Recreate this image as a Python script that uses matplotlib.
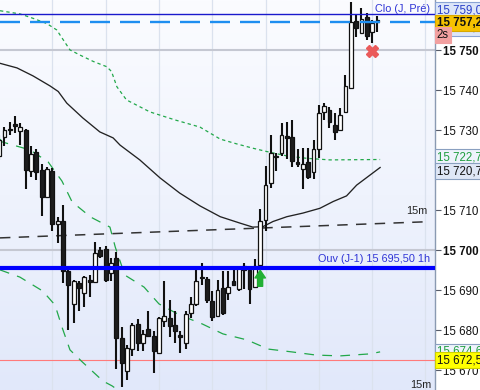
import numpy as np
import matplotlib
matplotlib.use("Agg")
import matplotlib.pyplot as plt
from matplotlib.colors import LinearSegmentedColormap
from matplotlib.transforms import blended_transform_factory

plt.rcParams['font.family'] = ['Liberation Sans', 'DejaVu Sans']
plt.rcParams['lines.scale_dashes'] = False

# ---------------- data ----------------
opens = [15723.6, 15728.4, 15730.1, 15731.5, 15729.9, 15730.1, 15719.9, 15724.7, 15720.1, 15713.4,
         15719.9, 15706.6, 15707.4, 15694.8, 15686.6, 15691.9, 15689.4, 15692.6, 15692.0, 15700.1,
         15700.3, 15694.4, 15698.0, 15678.0, 15669.7, 15675.3, 15681.5, 15676.9, 15680.4, 15678.6,
         15674.4, 15682.2, 15683.0, 15681.3, 15678.8, 15676.9, 15684.4, 15686.6, 15693.4, 15692.8,
         15687.2, 15683.6, 15690.6, 15689.4, 15692.2, 15690.3, 15696.1, 15695.1, 15690.9, 15696.3,
         15707.6, 15716.8, 15723.3, 15724.4, 15728.6, 15728.4, 15722.2, 15720.3, 15722.2, 15719.7,
         15725.3, 15734.5, 15735.1, 15731.3, 15730.2, 15734.7, 15740.5, 15757.4, 15754.4, 15758.4,
         15754.7, 15757.3]
closes = [15727.6, 15730.2, 15730.0, 15731.1, 15730.9, 15720.1, 15724.1, 15719.7, 15713.3, 15720.3,
          15706.6, 15707.2, 15694.9, 15691.3, 15692.2, 15690.5, 15693.3, 15692.0, 15699.3, 15698.6,
          15692.6, 15696.8, 15678.0, 15671.8, 15675.5, 15681.3, 15676.8, 15679.0, 15678.6, 15674.7,
          15683.0, 15683.6, 15681.1, 15679.7, 15678.4, 15684.1, 15686.6, 15692.4, 15693.0, 15687.6,
          15683.3, 15690.1, 15684.3, 15690.8, 15691.3, 15695.6, 15695.1, 15690.3, 15696.1, 15707.2,
          15716.3, 15724.4, 15723.7, 15728.8, 15728.1, 15722.3, 15721.6, 15721.6, 15718.4, 15725.3,
          15734.3, 15736.1, 15732.2, 15729.7, 15733.8, 15741.1, 15757.2, 15755.5, 15757.8, 15753.6,
          15756.8, 15757.2]
highs = [15728.8, 15730.9, 15732.2, 15733.6, 15731.9, 15730.3, 15726.1, 15725.3, 15721.6, 15720.8,
         15720.6, 15708.4, 15711.3, 15695.6, 15692.6, 15692.4, 15693.6, 15693.8, 15702.0, 15700.9,
         15701.1, 15698.1, 15699.6, 15680.9, 15676.2, 15681.8, 15682.8, 15680.1, 15684.7, 15679.7,
         15683.3, 15692.4, 15687.6, 15684.7, 15679.7, 15684.7, 15688.4, 15695.5, 15696.9, 15693.4,
         15689.7, 15692.6, 15694.7, 15694.7, 15695.9, 15695.9, 15696.8, 15696.1, 15697.8, 15710.3,
         15721.1, 15728.8, 15724.4, 15731.8, 15732.2, 15732.6, 15725.3, 15725.5, 15725.5, 15727.6,
         15736.3, 15736.8, 15735.8, 15734.3, 15735.5, 15743.8, 15762.2, 15759.1, 15760.5, 15759.3,
         15757.6, 15758.6]
lows = [15722.6, 15726.1, 15728.8, 15729.3, 15726.3, 15715.3, 15718.3, 15717.6, 15708.6, 15713.1,
        15704.7, 15701.9, 15691.9, 15680.1, 15681.8, 15684.7, 15685.9, 15688.4, 15691.8, 15698.1,
        15692.1, 15692.2, 15670.3, 15665.9, 15667.6, 15673.6, 15674.9, 15674.9, 15678.3, 15669.4,
        15674.3, 15680.8, 15678.4, 15676.9, 15674.3, 15675.3, 15683.0, 15686.1, 15691.3, 15686.9,
        15682.2, 15683.4, 15683.8, 15687.6, 15691.1, 15689.8, 15690.3, 15686.6, 15690.8, 15696.1,
        15704.7, 15715.5, 15719.9, 15723.6, 15722.8, 15720.8, 15720.8, 15715.3, 15717.8, 15717.8,
        15723.0, 15732.6, 15730.5, 15727.6, 15730.1, 15734.3, 15740.5, 15753.3, 15754.3, 15752.6,
        15751.9, 15754.7]

# overlay lines: (bar position, price) vertices
ma_x = [0.17, 3.36, 6.37, 9.55, 11.1, 12.7, 15.7, 18.9, 21.4, 22.7, 26.4, 30.2, 33.9, 37.7,
        41.5, 45.2, 47.6, 49.5, 51.4, 54.0, 57.0, 60.2, 62.7, 65.2, 67.1, 69.6, 71.5]
ma_y = [15746.75, 15745.6, 15743.6, 15741.1, 15739.7, 15736.8, 15733.1, 15729.6, 15728.1,
        15726.3, 15722.6, 15718.1, 15714.3, 15711.1, 15708.4, 15706.8, 15705.8, 15705.9,
        15707.2, 15708.4, 15709.3, 15710.5, 15712.2, 15713.6, 15716.3, 15718.8, 15720.7]

up_x = [0.17, 3.93, 6.37, 8.94, 10.81, 12.05, 13.3, 15.2, 17.7, 20.2, 21.1, 22.1, 23.9, 28.3,
        33.0, 37.7, 41.5, 44.6, 47.7, 50.2, 54.0, 57.7, 62.1, 71.5]
up_y = [15759.9, 15759.1, 15758.0, 15756.7, 15755.1, 15752.6, 15750.1, 15748.8, 15747.2,
        15745.9, 15744.7, 15740.9, 15737.6, 15734.6, 15732.6, 15730.8, 15727.8, 15726.6,
        15725.5, 15724.7, 15723.6, 15723.0, 15722.6, 15722.7]

lo_x = [0.17, 0.55, 5.8, 9.2, 11.8, 13.7, 17.2, 20.8, 21.8, 23.6, 27.2, 30.0, 33.9, 38.1, 42.0,
        46.5, 50.5, 54.9, 59.5, 64.0, 69.6, 71.5]
lo_y = [15727.8, 15727.1, 15725.1, 15722.1, 15717.3, 15712.1, 15708.3, 15705.8, 15700.8,
        15693.8, 15690.8, 15686.6, 15683.8, 15681.6, 15679.1, 15677.6, 15675.3, 15674.6,
        15673.8, 15673.6, 15674.1, 15674.6]

lo2_x = [0.17, 3.9, 8.2, 10.5, 11.8, 13.3, 15.6, 19.5, 21.2, 23.6]
lo2_y = [15695.1, 15693.3, 15689.8, 15686.3, 15680.8, 15675.1, 15672.1, 15667.3, 15666.1, 15663.8]

trend15_x = [0.17, 79.5]
trend15_y = [15703.1, 15707.1]

clo_prev = 15759.0
last_price = 15757.2
ouv_prev = 15695.5
red_level = 15672.5
grid_levels = [15750, 15700]
yticks = [15670, 15680, 15690, 15700, 15710, 15720, 15730, 15740, 15750]
bold_ticks = [15700, 15750]

buy_x, buy_y = [49], [15691.0]
sell_x, sell_y = [70], [15749.8]

# ---------------- figure ----------------
fig = plt.figure(figsize=(4.8, 3.9), dpi=100)
fig.patch.set_facecolor('white')
ax = fig.add_axes([0, 0, 435 / 480, 1])
X0, X1 = 0.17, 81.8
Y0, Y1 = 15665.07, 15762.58
ax.set_xlim(X0, X1)
ax.set_ylim(Y0, Y1)

grad = np.linspace(0, 1, 256).reshape(-1, 1)
cmap = LinearSegmentedColormap.from_list('bg', ['#fbfcff', '#eff3fd', '#e1e8fa'])
ax.imshow(grad, extent=[X0, X1, Y0, Y1], origin='upper', aspect='auto', cmap=cmap, zorder=0)

for s in ['left', 'top', 'bottom']:
    ax.spines[s].set_visible(False)
ax.spines['right'].set_color('#8a9ab2')
ax.spines['right'].set_linewidth(1.0)

ax.set_xticks([])
ax.yaxis.tick_right()
ax.set_yticks(yticks)
ax.set_yticklabels([f"{v // 1000} {v % 1000:03d}" for v in yticks])
for lab, v in zip(ax.get_yticklabels(), yticks):
    if v in bold_ticks:
        lab.set_fontweight('bold')
ax.tick_params(axis='y', length=4, width=0.8, color='#555a66', pad=2, labelsize=8.3,
               labelcolor='#111111')

for k in range(10, 81, 10):
    ax.axvline(k, color='#dbe2ee', lw=0.9, zorder=1)
for g in grid_levels:
    ax.axhline(g, color='#c5c8d2', lw=1.5, zorder=1)
ax.axhline(red_level, color='#ff7a7a', lw=0.8, zorder=1)

# overlays
ax.plot(up_x, up_y, color='#22a84a', lw=0.9, dashes=(2.4, 2.2), zorder=2)
ax.plot(lo_x, lo_y, color='#22a84a', lw=0.9, dashes=(7, 6), zorder=2)
ax.plot(lo2_x, lo2_y, color='#22a84a', lw=0.9, dashes=(7, 6), zorder=2)
ax.plot(ma_x, ma_y, color='#222222', lw=0.95, zorder=2)
ax.plot(trend15_x, trend15_y, color='#333333', lw=1.1, dashes=(7.5, 6), zorder=2)

# candles
n = len(opens)
xs = np.arange(n)
o = np.array(opens); c = np.array(closes)
h = np.array(highs); l = np.array(lows)
ax.vlines(xs, l, h, color='#111111', lw=1.5, zorder=4)
bottom = np.minimum(o, c)
height = np.maximum(np.abs(c - o), 0.3)
cols = ['white' if cc >= oo else '#1d1d1d' for oo, cc in zip(o, c)]
ax.bar(xs, height, bottom=bottom, width=0.72, color=cols, edgecolor='#111111', lw=0.9, zorder=5)

# horizontal reference lines
ax.axhline(clo_prev, color='#1a1acc', lw=1.0, zorder=6)
ax.axhline(last_price, color='#1e8ef0', lw=1.7, dashes=(14.4, 7.2), zorder=6)
ax.axhline(ouv_prev, color='#0000ff', lw=3.0, zorder=6)

# signals
for bx, by in zip(buy_x, buy_y):
    ax.annotate('', xy=(bx, by + 4.0), xytext=(bx, by),
                arrowprops=dict(arrowstyle='simple,head_length=0.55,head_width=0.75,tail_width=0.35',
                                color='#22b034', mutation_scale=10, shrinkA=0, shrinkB=0), zorder=7)
ax.plot(sell_x, sell_y, marker='X', ms=8, color='#ea5a5a', mec='#ea5a5a', ls='none', zorder=7)

# in-chart texts
tr = blended_transform_factory(ax.transAxes, ax.transData)
ax.text(430 / 435, clo_prev, 'Clo (J, Pré)', transform=tr,
        ha='right', va='bottom', fontsize=7.8, color='#2f34d6', zorder=8)
ax.annotate('Ouv (J-1) 15 695,50 1h', xy=(430 / 435, ouv_prev), xycoords=('axes fraction', 'data'),
            xytext=(0, 3), textcoords='offset points', ha='right', va='bottom', fontsize=7.8,
            color='#2f34d6', zorder=8)
ax.text(417 / 435, 15708.6, '15m', transform=tr, ha='center', va='bottom', fontsize=7.8,
        color='#222222', zorder=8)
ax.text(421 / 435, 15666.3, '15m', transform=tr, ha='center', va='center', fontsize=7.8,
        color='#222222', zorder=8, clip_on=True)

# right-hand value labels (label boxes are shifted apart like in the original)
def label(price, text, fc, tc, ec, bold=False, x=1.004):
    ax.text(x, price, text, transform=tr, ha='left', va='center', fontsize=8.3,
            fontweight='bold' if bold else 'normal', color=tc, clip_on=False, zorder=12,
            bbox=dict(boxstyle='square,pad=0.18', fc=fc, ec=ec, lw=0.8))

label(15755.6, '15 757,4', '#dce6f8', '#2a40c8', '#8aa4d4')
label(clo_prev + 1.0, '15 759,0', '#dce6f8', '#2a40c8', '#8aa4d4')
label(last_price - 0.3, '15 757,2', '#f6c200', '#111111', '#d8a800', bold=True)
label(15753.8, '2s', '#f2a0a0', '#111111', '#f2a0a0')
label(15723.3, '15 722,7', '#eef3fc', '#1e9e3e', '#8aa0c0')
label(15719.8, '15 720,7', '#dfe7f6', '#111111', '#8aa0c0')
label(15674.6, '15 674,6', '#eef3fc', '#1e9e3e', '#8aa0c0')
label(red_level, '15 672,5', '#ffff00', '#111111', '#d0d000')

fig.savefig('out.png', dpi=100, facecolor='white')
